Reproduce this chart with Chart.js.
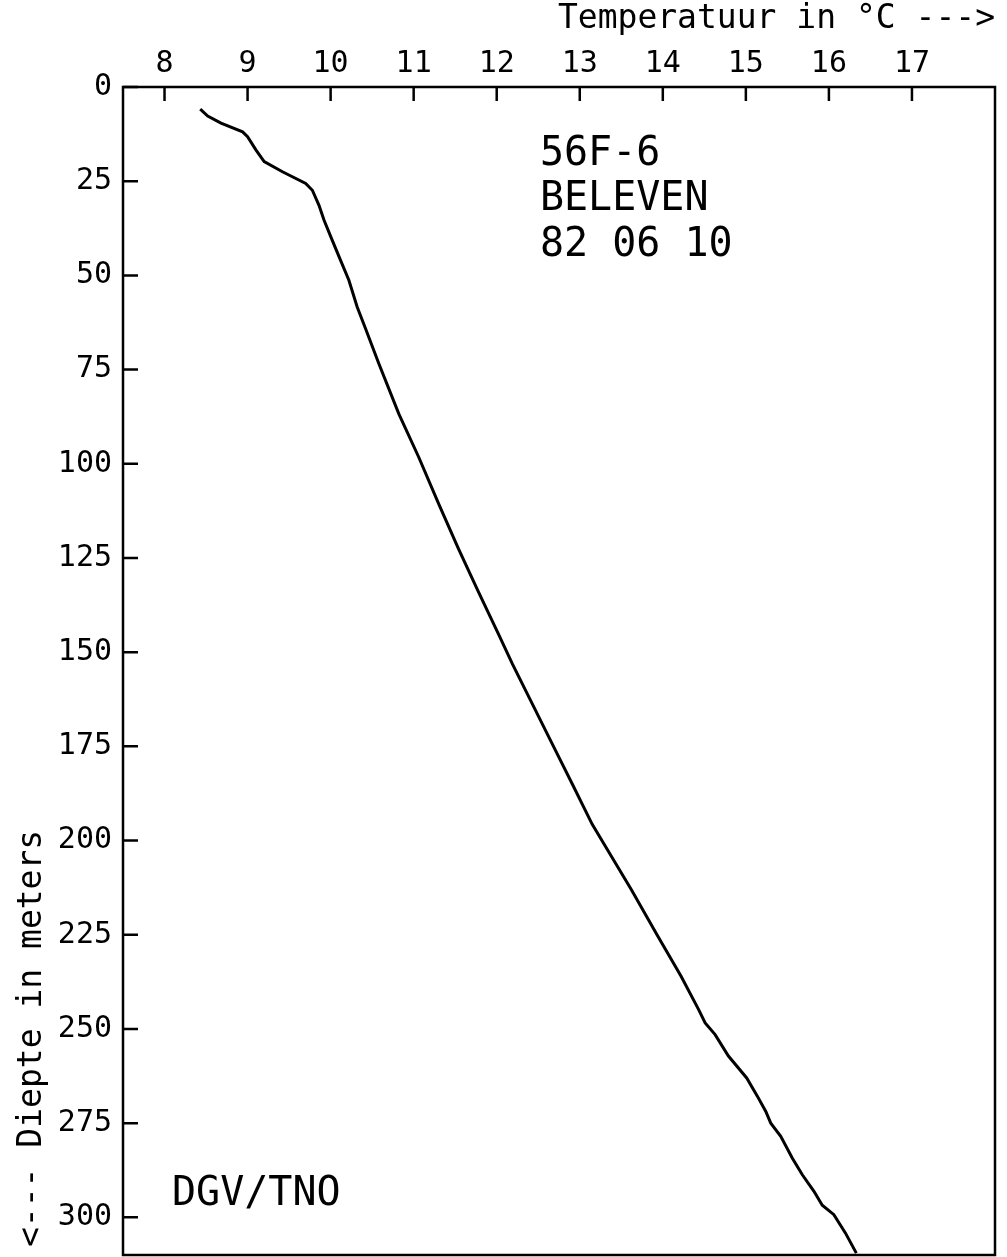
<!DOCTYPE html>
<html>
<head>
<meta charset="utf-8">
<script src="https://cdn.jsdelivr.net/npm/chart.js@4/dist/chart.umd.min.js"></script>
<style>
  html, body { margin: 0; padding: 0; background: #fff; }
  #wrap { width: 1007px; height: 1257px; position: relative; }
</style>
</head>
<body>
<div id="wrap"><canvas id="chart"></canvas></div>
<script>
// temperature profile
const depths = [5.9, 7.7, 9.6, 11.9, 13.2, 16.7, 19.8, 22.5, 25.6, 27.4, 31.4, 35.3, 40.7, 46.0, 51.3, 58.4, 64.1,
    73.4, 86.7, 98.2, 110.6, 122.6, 134, 145.6, 153.2, 163.8, 174.4, 185.0, 195.7, 202.3, 213, 225, 236, 244.8,
    248.4, 251.5, 257.2, 263.0, 267.9, 271.9, 275.0, 278.5, 284.3, 288.7, 293.1, 296.8, 299.3, 304.2, 309.5];
const temps = [8.43, 8.52, 8.68, 8.94, 9.00, 9.10, 9.20, 9.42, 9.70, 9.78, 9.86, 9.92, 10.02, 10.12, 10.22, 10.32, 10.42,
    10.58, 10.82, 11.06, 11.30, 11.54, 11.78, 12.03, 12.19, 12.43, 12.67, 12.91, 13.15, 13.33, 13.62, 13.93, 14.22, 14.43,
    14.51, 14.63, 14.79, 15.01, 15.14, 15.24, 15.30, 15.42, 15.56, 15.68, 15.82, 15.92, 16.06, 16.20, 16.33];

const xTicks = [8, 9, 10, 11, 12, 13, 14, 15, 16, 17];
const yTicks = [0, 25, 50, 75, 100, 125, 150, 175, 200, 225, 250, 275, 300];

const boreLabel = ['56F-6', 'BELEVEN', '82 06 10'];
const sourceLabel = 'DGV/TNO';
const yTitle = '<--- Diepte in meters';

const mono = '"DejaVu Sans Mono", "Liberation Mono", monospace';

// frame, inward ticks, y title and the text inside the plot
const framePlugin = {
    id: 'frame',
    afterDraw(chart) {
        const ctx = chart.ctx;
        const area = chart.chartArea;
        const xs = chart.scales.x;
        const ys = chart.scales.y;
        ctx.save();
        ctx.strokeStyle = '#000';
        ctx.lineWidth = 2.5;
        ctx.strokeRect(area.left, area.top, area.right - area.left, area.bottom - area.top);

        ctx.beginPath();
        xTicks.forEach(v => {
            const px = xs.getPixelForValue(v);
            ctx.moveTo(px, area.top);
            ctx.lineTo(px, area.top + 14);
        });
        yTicks.forEach(v => {
            const py = ys.getPixelForValue(v);
            ctx.moveTo(area.left, py);
            ctx.lineTo(area.left + 15, py);
        });
        ctx.stroke();

        ctx.fillStyle = '#000';
        ctx.font = '40px ' + mono;
        ctx.textAlign = 'left';
        ctx.textBaseline = 'alphabetic';
        const lineDepths = [20.7, 32.7, 44.9];
        boreLabel.forEach((txt, i) => {
            ctx.fillText(txt, xs.getPixelForValue(12.52), ys.getPixelForValue(lineDepths[i]));
        });
        ctx.fillText(sourceLabel, xs.getPixelForValue(8.09), ys.getPixelForValue(296.6));

        // rotated axis title, reading upward from the bottom
        ctx.font = '33px ' + mono;
        ctx.textBaseline = 'middle';
        ctx.translate(area.left - 91, area.bottom - 8);
        ctx.rotate(-Math.PI / 2);
        ctx.fillText(yTitle, 0, 0);
        ctx.restore();
    }
};

new Chart(document.getElementById('chart'), {
    type: 'scatter',
    data: {
        datasets: [{
            data: depths.map((d, i) => ({ x: temps[i], y: d })),
            showLine: true,
            borderColor: '#000',
            borderWidth: 3,
            pointRadius: 0,
            tension: 0,
            fill: false
        }]
    },
    options: {
        responsive: true,
        maintainAspectRatio: false,
        animation: false,
        layout: { padding: { left: 0, right: 12, top: 0, bottom: 2 } },
        plugins: {
            legend: { display: false },
            tooltip: { enabled: false }
        },
        scales: {
            x: {
                type: 'linear',
                position: 'top',
                min: 7.5,
                max: 18,
                afterBuildTicks: s => { s.ticks = xTicks.map(v => ({ value: v })); },
                afterFit: s => { s.height = 87; s.paddingLeft = 0; s.paddingRight = 0; },
                grid: { display: false, drawTicks: false },
                border: { display: false },
                ticks: {
                    color: '#000',
                    padding: 5,
                    maxRotation: 0,
                    font: { family: mono, size: 30 }
                },
                title: {
                    display: true,
                    text: 'Temperatuur in °C --->',
                    align: 'end',
                    color: '#000',
                    padding: { top: 0, bottom: 0 },
                    font: { family: mono, size: 33 }
                }
            },
            y: {
                type: 'linear',
                reverse: true,
                min: 0,
                max: 310,
                afterBuildTicks: s => { s.ticks = yTicks.map(v => ({ value: v })); },
                afterFit: s => { s.width = 123; s.paddingTop = 0; s.paddingBottom = 0; },
                grid: { display: false, drawTicks: false },
                border: { display: false },
                ticks: {
                    color: '#000',
                    padding: 11,
                    font: { family: mono, size: 30 }
                },
                title: { display: false }
            }
        }
    },
    plugins: [framePlugin]
});
</script>
</body>
</html>
